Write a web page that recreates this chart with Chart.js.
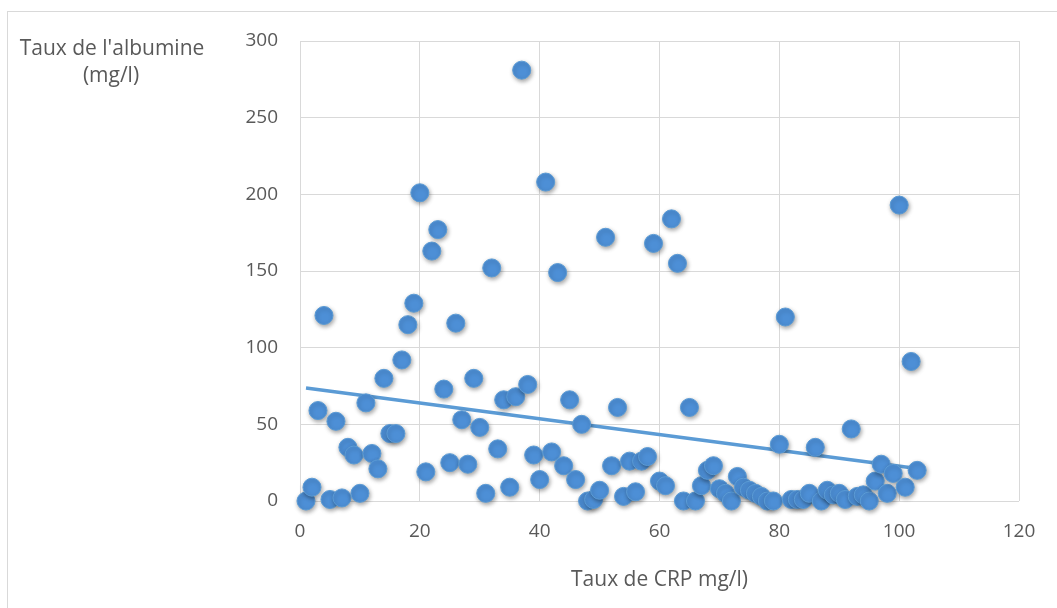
<!DOCTYPE html>
<html>
<head>
<meta charset="utf-8">
<title>Albumine vs CRP</title>
<script src="https://cdn.jsdelivr.net/npm/chart.js@4.4.0/dist/chart.umd.min.js"></script>
<style>
  html, body { margin: 0; padding: 0; background: #fff; }
  #wrap { width: 1057px; height: 608px; position: relative; }
</style>
</head>
<body>
<div id="wrap"><canvas id="chart" width="1057" height="608"></canvas></div>
<script>
// Taux de CRP (mg/l) - x values
let crp = [];
for (let i = 1; i <= 103; i++) crp.push(i);

// Taux de l'albumine (mg/l)
let albumine = [
  0, 9, 59, 121, 1, 52, 2, 35, 30, 5,
  64, 31, 21, 80, 44, 44, 92, 115, 129, 201,
  19, 163, 177, 73, 25, 116, 53, 24, 80, 48,
  5, 152, 34, 66, 9, 68, 281, 76, 30, 14,
  208, 32, 149, 23, 66, 14, 50, 0, 1, 7,
  172, 23, 61, 3, 26, 6, 26, 29, 168, 13,
  10, 184, 155, 0, 61, 0, 10, 20, 23, 8,
  5, 0, 16, 9, 7, 5, 3, 0, 0, 37,
  120, 1, 1, 1, 5, 35, 0, 7, 4, 5,
  1, 47, 3, 4, 0, 13, 24, 5, 18, 193,
  9, 91, 20
];

let xTicks = [0, 20, 40, 60, 80, 100, 120];
let yTicks = [0, 50, 100, 150, 200, 250, 300];

const textColor = "#595959";
const gridColor = "#d9d9d9";

// linear trendline (least squares)
let n = crp.length, sx = 0, sy = 0, sxx = 0, sxy = 0;
for (let i = 0; i < n; i++) {
  sx += crp[i]; sy += albumine[i];
  sxx += crp[i] * crp[i]; sxy += crp[i] * albumine[i];
}
let slope = (n * sxy - sx * sy) / (n * sxx - sx * sx);
let inter = (sy - slope * sx) / n;
let x0 = crp[0], x1 = crp[n - 1];
let trend = [{x: x0, y: inter + slope * x0}, {x: x1, y: inter + slope * x1}];

let points = crp.map((x, i) => ({x: x, y: albumine[i]}));

// shadow under the markers + y title + outer frame
const extras = {
  id: "extras",
  beforeDraw(chart) {
    const ctx = chart.ctx;
    ctx.save();
    ctx.fillStyle = "#fff";
    ctx.fillRect(0, 0, chart.width, chart.height);
    ctx.strokeStyle = gridColor;
    ctx.lineWidth = 1;
    ctx.strokeRect(7.5, 11.5, chart.width + 10, chart.height + 10);
    ctx.restore();
  },
  beforeDatasetDraw(chart, args) {
    if (args.index !== 0) return;
    const ctx = chart.ctx;
    ctx.save();
    ctx.shadowColor = "rgba(0,0,0,0.35)";
    ctx.shadowBlur = 4;
    ctx.shadowOffsetX = 1;
    ctx.shadowOffsetY = 2;
  },
  afterDatasetDraw(chart, args) {
    if (args.index !== 0) return;
    chart.ctx.restore();
  },
  afterDraw(chart) {
    const ctx = chart.ctx;
    ctx.save();
    ctx.fillStyle = textColor;
    ctx.font = "21px 'Open Sans'";
    ctx.textAlign = "center";
    ctx.textBaseline = "middle";
    ctx.fillText("Taux de l'albumine", 112, 49);
    ctx.fillText("(mg/l)", 111, 76);
    ctx.restore();
  }
};

new Chart(document.getElementById("chart"), {
  type: "scatter",
  data: {
    datasets: [
      {
        label: "Taux de l'albumine",
        data: points,
        backgroundColor: "#4d8fd6",
        borderColor: "#5b9bd5",
        borderWidth: 1,
        pointRadius: 9,
        clip: false,
        order: 1
      },
      {
        label: "Linéaire",
        type: "line",
        data: trend,
        borderColor: "#5b9bd5",
        borderWidth: 3.5,
        pointRadius: 0,
        fill: false,
        order: 2
      }
    ]
  },
  options: {
    responsive: false,
    animation: false,
    layout: { padding: { left: 240, top: 41, right: 38, bottom: 0 } },
    plugins: {
      legend: { display: false },
      tooltip: { enabled: false }
    },
    scales: {
      x: {
        type: "linear",
        min: 0,
        max: 120,
        afterBuildTicks: (s) => { s.ticks = xTicks.map(v => ({value: v})); },
        afterFit: (s) => { s.height = 107; },
        grid: { color: gridColor, drawTicks: false },
        border: { display: false },
        ticks: { color: textColor, font: { family: "Open Sans", size: 19 }, padding: 19 },
        title: {
          display: true,
          text: "Taux de CRP mg/l)",
          color: textColor,
          font: { family: "Open Sans", size: 21 },
          padding: { top: 0, bottom: 15 }
        }
      },
      y: {
        type: "linear",
        min: 0,
        max: 300,
        afterBuildTicks: (s) => { s.ticks = yTicks.map(v => ({value: v})); },
        afterFit: (s) => { s.width = 60; },
        grid: { color: gridColor, drawTicks: false },
        border: { display: false },
        ticks: { color: textColor, font: { family: "Open Sans", size: 19 }, padding: 22 }
      }
    }
  },
  plugins: [extras]
});
</script>
</body>
</html>
